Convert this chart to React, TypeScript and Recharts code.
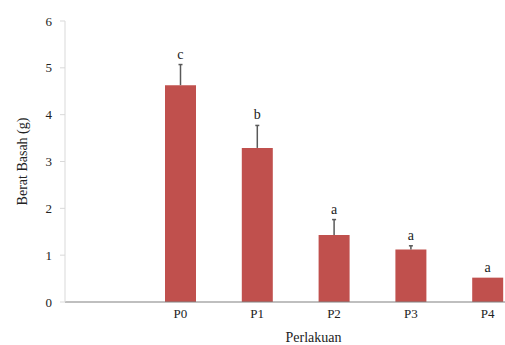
import React from 'react'
import {
  ComposedChart, Bar, Line, XAxis, YAxis, LabelList,
} from 'recharts'

const perlakuan = ['P0', 'P1', 'P2', 'P3', 'P4']
const beratBasah = [4.63, 3.29, 1.43, 1.12, 0.52]
const galat = [0.44, 0.48, 0.33, 0.08, null]
const notasi = ['c', 'b', 'a', 'a', 'a']
const yTicks = [0, 1, 2, 3, 4, 5, 6]

const data = perlakuan.map((p, i) => ({
  name: p,
  berat: beratBasah[i],
  err: galat[i],
  top: beratBasah[i] + (galat[i] ?? 0),
  huruf: notasi[i],
}))

const font = '"Liberation Serif", "Times New Roman", serif'

// upper whisker drawn as a stacked segment over the mean
const Whisker = (props: any) => {
  const { x, y, width, height } = props
  if (!height || height <= 0) return null
  const cx = x + width / 2
  return (
    <g>
      <line x1={cx} y1={y} x2={cx} y2={y + height} stroke="#595959" strokeWidth={1.5} />
      <line x1={cx - 2} y1={y} x2={cx + 2} y2={y} stroke="#595959" strokeWidth={1.5} />
    </g>
  )
}

export default function App() {
  return (
    <div style={{
      position: 'fixed', left: 0, top: 0, width: 505, height: 345,
      overflow: 'hidden', background: '#fff',
    }}>
      <ComposedChart
        width={526}
        height={345}
        data={data}
        margin={{ top: 21, right: 0, left: 20, bottom: 13 }}
      >
        <XAxis
          dataKey="name"
          padding={{ left: 77, right: 0 }}
          axisLine={{ stroke: '#808080', strokeWidth: 1.2 }}
          tickLine={false}
          tick={{ fill: '#222', fontSize: 13, fontFamily: font }}
          tickMargin={1}
          height={30}
          label={{
            value: 'Perlakuan', position: 'insideBottom', offset: -10, dx: 18,
            style: { fill: '#222', fontSize: 14, fontFamily: font },
          }}
        />
        <YAxis
          domain={[0, 6]}
          ticks={yTicks}
          width={45}
          axisLine={{ stroke: '#d9d9d9' }}
          tickLine={{ stroke: '#d9d9d9' }}
          tickSize={5}
          tickMargin={8}
          tick={{ fill: '#222', fontSize: 13, fontFamily: font }}
          label={{
            value: 'Berat Basah (g)', angle: -90, position: 'insideLeft', offset: 2,
            style: { fill: '#222', fontSize: 14, fontFamily: font, textAnchor: 'middle' },
          }}
        />
        <Bar dataKey="berat" stackId="s" fill="#c0504d" barSize={31} isAnimationActive={false} />
        <Bar dataKey="err" stackId="s" fill="none" shape={<Whisker />} isAnimationActive={false} />
        <Line
          dataKey="top"
          stroke="none"
          dot={false}
          activeDot={false}
          isAnimationActive={false}
        >
          <LabelList
            dataKey="huruf"
            position="top"
            offset={6}
            style={{ fill: '#222', fontSize: 14, fontFamily: font }}
          />
        </Line>
      </ComposedChart>
    </div>
  )
}
